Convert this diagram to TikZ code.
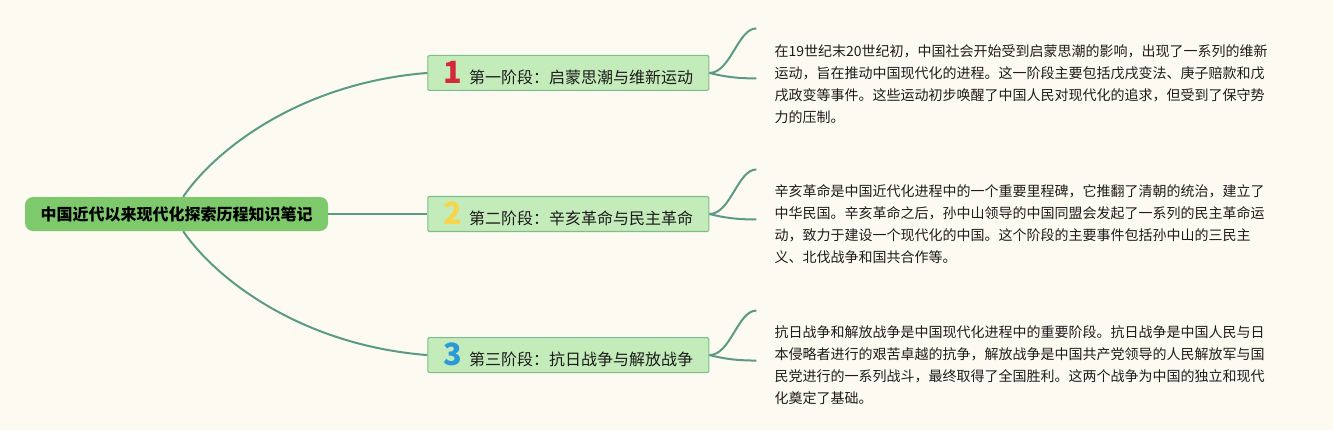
\documentclass[tikz,border=0pt]{standalone}
\usepackage{fontspec}
\setmainfont{Noto Sans CJK SC}
\usetikzlibrary{positioning,calc}

\definecolor{bgcream}{HTML}{FDFBF1}
\definecolor{rootgreen}{HTML}{7DC96B}
\definecolor{phasegreen}{HTML}{C4EBBA}
\definecolor{phaseedge}{HTML}{7DBE8E}
\definecolor{linkteal}{HTML}{5B9A86}
\definecolor{textdark}{HTML}{1C1C1C}
\definecolor{numred}{HTML}{D22A36}
\definecolor{numyellow}{HTML}{F5D54C}
\definecolor{numblue}{HTML}{2A9BD8}

\newcommand{\stagenum}[2]{{\fontsize{23}{23}\selectfont\bfseries\color{#1}#2}\hspace{5pt}}

\begin{document}
\begin{tikzpicture}[
    node distance=78.75pt and 74.25pt,
    root/.style={rectangle, rounded corners=6pt, fill=rootgreen, minimum width=227.25pt, minimum height=25.5pt, font=\fontsize{12}{14}\selectfont\bfseries, text=black},
    phase/.style={rectangle, draw=phaseedge, line width=0.8pt, rounded corners=1pt, fill=phasegreen, minimum width=210.75pt, minimum height=26.25pt, font=\fontsize{12}{14}\selectfont, text=textdark},
    leaf/.style={align=left, inner sep=0pt, font=\fontsize{10.5}{16.5}\selectfont, text=textdark},
    link/.style={draw=linkteal, line width=1.5pt}
]
    \fill[bgcream] (0,0) rectangle (999.75pt,-322.5pt);
    \useasboundingbox (0,0) rectangle (999.75pt,-322.5pt);

    \node[root] (root) at (132.4pt,-160.5pt) {中国近代以来现代化探索历程知识笔记};
    \node[phase, right=74.25pt of root] (phase2) {\stagenum{numyellow}{2}第二阶段：辛亥革命与民主革命};
    \node[phase, above=78.75pt of phase2] (phase1) {\stagenum{numred}{1}第一阶段：启蒙思潮与维新运动};
    \node[phase, below=78.75pt of phase2] (phase3) {\stagenum{numblue}{3}第三阶段：抗日战争与解放战争};

    \node[leaf, right=48.75pt of phase1, yshift=-8.2pt] (leaf1) {在19世纪末20世纪初，中国社会开始受到启蒙思潮的影响，出现了一系列的维新\\运动，旨在推动中国现代化的进程。这一阶段主要包括戊戌变法、庚子赔款和戊\\戌政变等事件。这些运动初步唤醒了中国人民对现代化的追求，但受到了保守势\\力的压制。};
    \node[leaf, right=48.75pt of phase2, yshift=-7.8pt] (leaf2) {辛亥革命是中国近代化进程中的一个重要里程碑，它推翻了清朝的统治，建立了\\中华民国。辛亥革命之后，孙中山领导的中国同盟会发起了一系列的民主革命运\\动，致力于建设一个现代化的中国。这个阶段的主要事件包括孙中山的三民主\\义、北伐战争和国共合作等。};
    \node[leaf, right=48.75pt of phase3, yshift=-7.4pt] (leaf3) {抗日战争和解放战争是中国现代化进程中的重要阶段。抗日战争是中国人民与日\\本侵略者进行的艰苦卓越的抗争，解放战争是中国共产党领导的人民解放军与国\\民党进行的一系列战斗，最终取得了全国胜利。这两个战争为中国的独立和现代\\化奠定了基础。};

    % ends of the leaf branches
    \coordinate (up1) at ($(phase1.east)+(35.25pt,33.4pt)$);
    \coordinate (lo1) at ($(phase1.east)+(35.25pt,-4.1pt)$);
    \coordinate (up2) at ($(phase2.east)+(35.25pt,33.4pt)$);
    \coordinate (lo2) at ($(phase2.east)+(35.25pt,-4.1pt)$);
    \coordinate (up3) at ($(phase3.east)+(35.25pt,33.4pt)$);
    \coordinate (lo3) at ($(phase3.east)+(35.25pt,-4.1pt)$);

    \draw[link] ([xshift=5pt]root.north) .. controls +(24pt,35.25pt) and +(-95.25pt,-7.5pt) .. (phase1.west);
    \draw[link] (root.east) -- (phase2.west);
    \draw[link] ([xshift=5pt]root.south) .. controls +(24pt,-35.25pt) and +(-95.25pt,7.5pt) .. (phase3.west);

    \draw[link] (phase1.east) .. controls +(16pt,0pt) and +(-14pt,0pt) .. (up1);
    \draw[link] (phase1.east) .. controls +(12pt,-3pt) and +(-14pt,0pt) .. (lo1);
    \draw[link] (phase2.east) .. controls +(16pt,0pt) and +(-14pt,0pt) .. (up2);
    \draw[link] (phase2.east) .. controls +(12pt,-3pt) and +(-14pt,0pt) .. (lo2);
    \draw[link] (phase3.east) .. controls +(16pt,0pt) and +(-14pt,0pt) .. (up3);
    \draw[link] (phase3.east) .. controls +(12pt,-3pt) and +(-14pt,0pt) .. (lo3);
\end{tikzpicture}
\end{document}
